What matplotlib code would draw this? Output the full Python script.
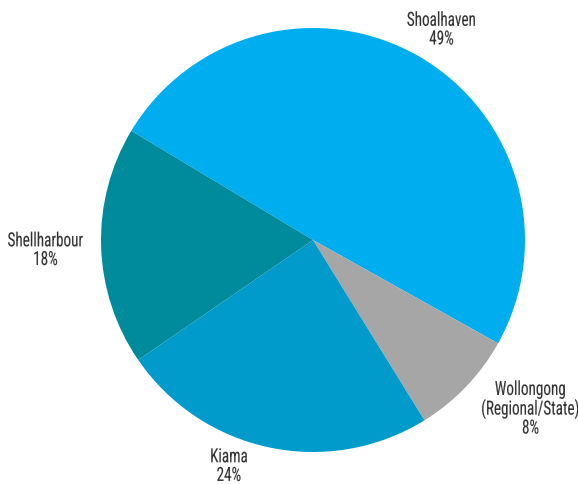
import numpy as np
import matplotlib
matplotlib.use("Agg")
import matplotlib.pyplot as plt
from matplotlib import font_manager, patheffects
from matplotlib.font_manager import FontProperties
from matplotlib.text import Text
from matplotlib.transforms import Affine2D, Bbox

regions = ["Shoalhaven", "Wollongong\n(Regional/State)", "Kiama", "Shellharbour"]
shares = [49, 8, 24, 18]
colors = ["#00adee", "#a6a6a6", "#009bcb", "#008b9d"]

# label placement: radial distance (in radii) and angular nudge (degrees)
label_dist = [1.161, 1.30, 1.14, 1.263]
label_nudge = [-1.4, 5.85, -8.45, 0.55]


class HSqueeze(patheffects.AbstractPathEffect):
    """Narrow each text line horizontally about its own centre."""

    def __init__(self, sx, weight=0.0):
        super().__init__()
        self.sx = sx
        self.weight = weight

    def draw_path(self, renderer, gc, tpath, affine, rgbFace=None):
        ext = tpath.get_extents()
        c = (ext.x0 + ext.x1) / 2
        squeeze = Affine2D().translate(-c, 0).scale(self.sx, 1).translate(c, 0)
        gc0 = renderer.new_gc()
        gc0.copy_properties(gc)
        if rgbFace is not None:
            gc0.set_foreground(rgbFace)
        gc0.set_linewidth(self.weight)
        renderer.draw_path(gc0, tpath, squeeze + affine, rgbFace)
        gc0.restore()


class NarrowText(Text):
    """Centre-aligned text drawn horizontally condensed; its extent follows."""

    def __init__(self, *args, squeeze=1.0, weight=0.0, **kwargs):
        super().__init__(*args, **kwargs)
        self.squeeze = squeeze
        self.set_path_effects([HSqueeze(squeeze, weight)])

    def get_window_extent(self, renderer=None, dpi=None):
        bb = super().get_window_extent(renderer, dpi)
        mid = (bb.x0 + bb.x1) / 2
        half = bb.width * self.squeeze / 2
        return Bbox.from_extents(mid - half, bb.y0, mid + half, bb.y1)


# prefer a narrow sans face for the labels
narrow = [f for f in font_manager.fontManager.ttflist
          if ("Condensed" in f.fname or "Narrow" in f.fname)
          and "Bold" not in f.fname and "Oblique" not in f.fname
          and "Italic" not in f.fname and "Light" not in f.fname]
narrow.sort(key=lambda f: ("Roboto" not in f.fname, "Sans" not in f.fname, f.fname))
if narrow:
    label_font = FontProperties(fname=narrow[0].fname, size=14)
    squeeze = 0.78
else:
    label_font = FontProperties(family="DejaVu Sans", size=14)
    squeeze = 0.68

W, H, DPI = 578, 484, 100
fig = plt.figure(figsize=(W / DPI, H / DPI), dpi=DPI)
ax = fig.add_axes([0, 0, 1, 1])
R = 212.0
cx, cy = 313.0, 240.0

wedges, _ = ax.pie(shares, colors=colors, startangle=149, counterclock=False,
                   radius=1.0, center=(0, 0), frame=True,
                   wedgeprops=dict(linewidth=0))
ax.set_xlim(-cx / R, (W - cx) / R)
ax.set_ylim(-(H - cy) / R, cy / R)
ax.set_aspect("auto")
ax.axis("off")

for w, name, s, d, nud in zip(wedges, regions, shares, label_dist, label_nudge):
    ang = np.deg2rad((w.theta1 + w.theta2) / 2 + nud)
    ax.add_artist(NarrowText(d * np.cos(ang), d * np.sin(ang), f"{name}\n{s}%",
                             ha="center", va="center",
                             fontproperties=label_font, color="#333333",
                             linespacing=1.05, squeeze=squeeze, weight=0.1))

fig.savefig("out.png", dpi=DPI)
